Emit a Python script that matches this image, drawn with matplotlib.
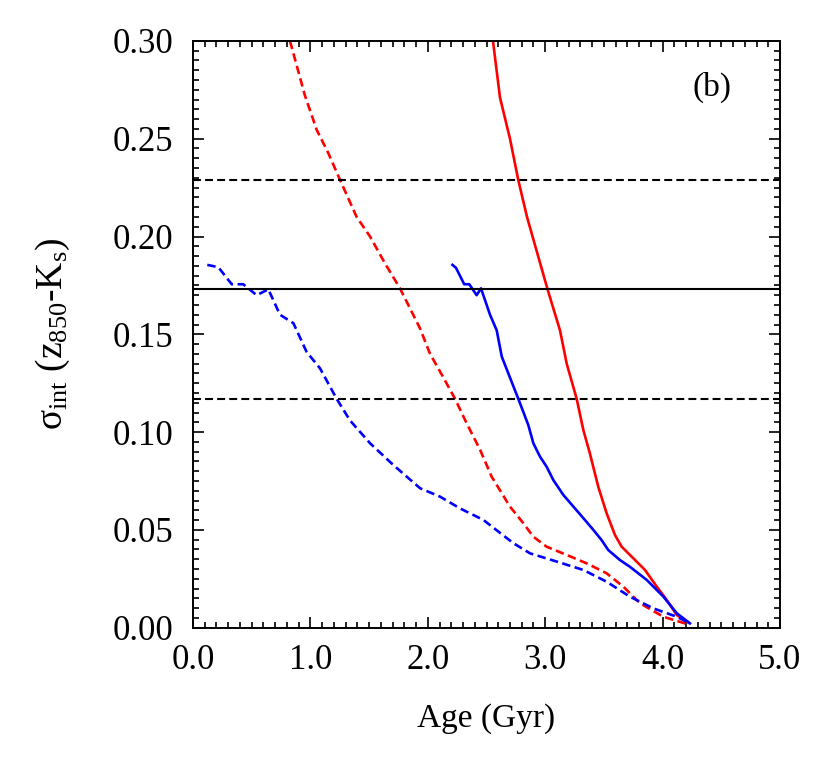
import numpy as np
import matplotlib
matplotlib.use("Agg")
import matplotlib.pyplot as plt
from matplotlib.ticker import MultipleLocator, FormatStrFormatter

# Data (age in Gyr, sigma_int)
red_solid_x = [2.555, 2.615, 2.70, 2.77, 2.845, 2.93, 3.02, 3.126, 3.183, 3.268, 3.325,
               3.381, 3.452, 3.523, 3.594, 3.651, 3.75, 3.85, 3.95, 4.035, 4.12, 4.22]
red_solid_y = [0.300, 0.271, 0.250, 0.229, 0.210, 0.192, 0.173, 0.152, 0.135, 0.117, 0.101,
               0.089, 0.072, 0.0585, 0.0474, 0.0414, 0.0355, 0.0295, 0.021, 0.0142, 0.0065, 0.0026]

blue_solid_x = [2.21, 2.24, 2.31, 2.353, 2.416, 2.453, 2.53, 2.587, 2.63, 2.686, 2.771,
                2.856, 2.899, 2.956, 3.012, 3.069, 3.154, 3.24, 3.325, 3.41, 3.48,
                3.537, 3.636, 3.72, 3.865, 4.006, 4.12, 4.233]
blue_solid_y = [0.1855, 0.184, 0.1756, 0.1756, 0.170, 0.1735, 0.160, 0.152, 0.1386, 0.130, 0.117,
                0.1036, 0.0943, 0.0874, 0.0823, 0.0755, 0.0679, 0.0619, 0.056, 0.050, 0.0448,
                0.0397, 0.0346, 0.0312, 0.0244, 0.0159, 0.0074, 0.0022]

red_dash_x = [0.826, 0.954, 1.054, 1.153, 1.252, 1.394, 1.508, 1.635, 1.763, 1.934, 2.019,
              2.132, 2.232, 2.331, 2.445, 2.544, 2.70, 2.814, 2.899, 3.012, 3.183, 3.353,
              3.523, 3.665, 3.807, 4.006, 4.205]
red_dash_y = [0.300, 0.272, 0.2545, 0.2426, 0.229, 0.210, 0.200, 0.1863, 0.1735, 0.153, 0.140,
              0.128, 0.117, 0.1045, 0.091, 0.0772, 0.0619, 0.0534, 0.0465, 0.0414, 0.0372, 0.0329,
              0.0278, 0.021, 0.0125, 0.0056, 0.0019]

blue_dash_x = [0.122, 0.216, 0.33, 0.428, 0.542, 0.642, 0.741, 0.855, 0.968, 1.082, 1.224,
               1.337, 1.508, 1.706, 1.934, 2.104, 2.274, 2.473, 2.729, 2.871, 3.098, 3.325,
               3.523, 3.72, 3.92, 4.12, 4.233]
blue_dash_y = [0.1855, 0.1843, 0.1756, 0.1756, 0.170, 0.173, 0.160, 0.1557, 0.141, 0.1326, 0.117,
               0.106, 0.0943, 0.0832, 0.0713, 0.067, 0.061, 0.0551, 0.0432, 0.038, 0.0338, 0.0295,
               0.0235, 0.0159, 0.0099, 0.0056, 0.0022]

sigma_obs = 0.173
sigma_err = 0.056

plt.rcParams['font.family'] = ['Liberation Serif', 'DejaVu Serif']
plt.rcParams['mathtext.fontset'] = 'custom'
plt.rcParams['mathtext.rm'] = 'Liberation Serif'
plt.rcParams['mathtext.it'] = 'Liberation Serif:italic'

fig = plt.figure(figsize=(8.3, 7.65), dpi=100)
ax = fig.add_axes([0.2325, 0.1795, 0.7073, 0.767])

dash = (3.2, 1.7)
ax.plot(red_solid_x, red_solid_y, color='red', lw=1.9)
ax.plot(blue_solid_x, blue_solid_y, color='blue', lw=1.9)
ax.plot(red_dash_x, red_dash_y, color='red', lw=1.9, dashes=dash)
ax.plot(blue_dash_x, blue_dash_y, color='blue', lw=1.9, dashes=dash)

ax.axhline(sigma_obs, color='black', lw=1.5)
ax.axhline(sigma_obs + sigma_err, color='black', lw=1.5, dashes=(3.8, 2.0))
ax.axhline(sigma_obs - sigma_err, color='black', lw=1.5, dashes=(3.8, 2.0))

ax.set_xlim(0, 5)
ax.set_ylim(0, 0.30)
ax.xaxis.set_major_locator(MultipleLocator(1.0))
ax.xaxis.set_minor_locator(MultipleLocator(0.1))
ax.yaxis.set_major_locator(MultipleLocator(0.05))
ax.yaxis.set_minor_locator(MultipleLocator(0.005))
ax.xaxis.set_major_formatter(FormatStrFormatter('%.1f'))
ax.yaxis.set_major_formatter(FormatStrFormatter('%.2f'))
ax.tick_params(which='both', direction='in', top=True, right=True, width=1.2)
ax.tick_params(which='major', length=8, labelsize=25)
ax.tick_params(axis='x', which='major', pad=12)
ax.tick_params(axis='y', which='major', pad=14)
ax.tick_params(which='minor', length=4)
for s in ax.spines.values():
    s.set_linewidth(1.4)

ax.set_xlabel('Age (Gyr)', fontsize=24)
ax.xaxis.set_label_coords(0.5, -0.128)
ax.set_ylabel(r'σ$_{\rm int}$ (z$_{850}$-K$_{\rm s}$)', fontsize=27)
ax.yaxis.set_label_coords(-0.206, 0.5)
ax.text(4.42, 0.2765, '(b)', fontsize=24, ha='center', va='center')

fig.savefig('out.png', dpi=100)
